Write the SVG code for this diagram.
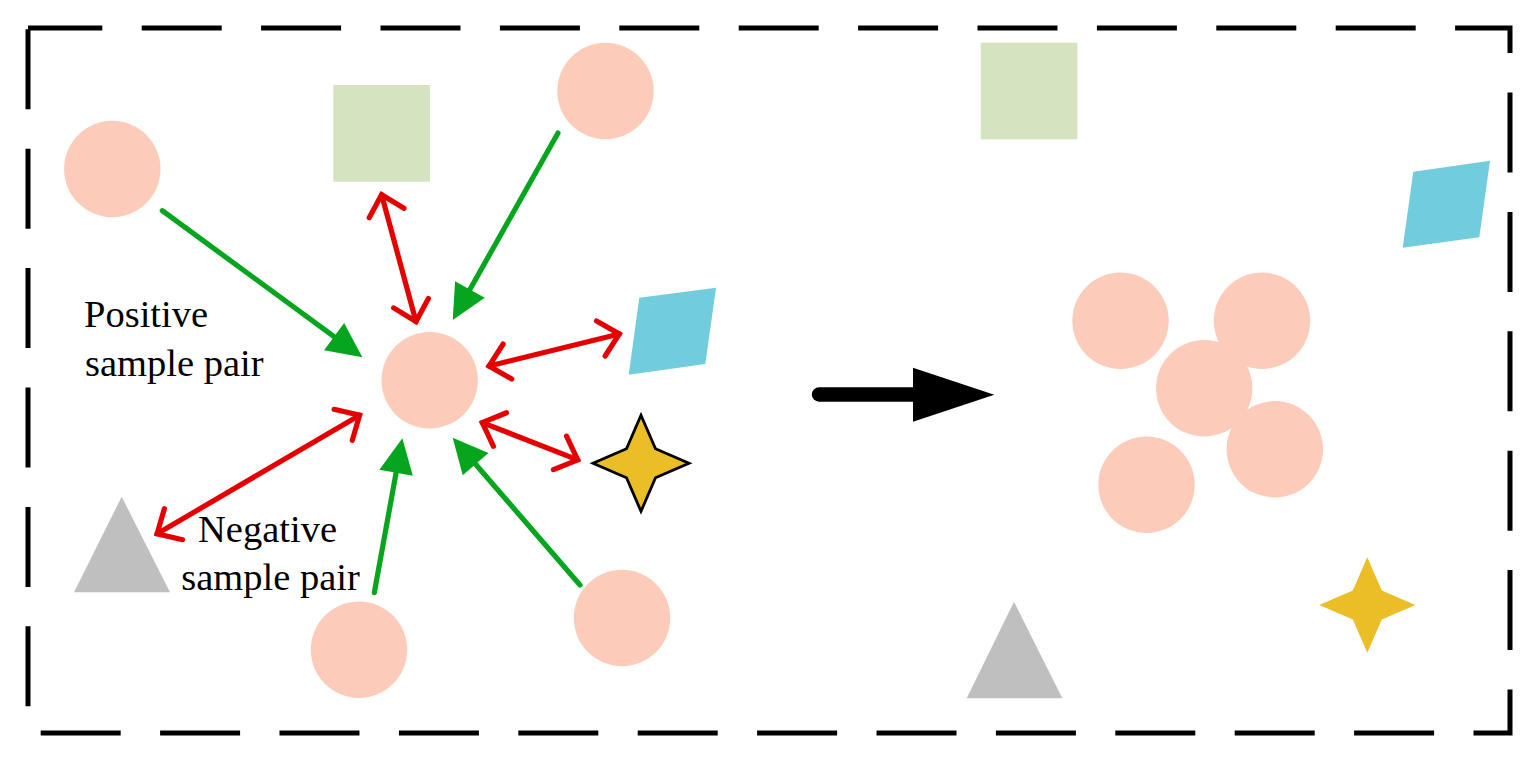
<svg xmlns="http://www.w3.org/2000/svg" width="1538" height="760" viewBox="0 0 1538 760">
  <style>
    .circ { fill: #FCCBB9; }
    .sq { fill: #D5E3C0; }
    .para { fill: #71CDDE; }
    .tri { fill: #BFBFBF; }
    .star { fill: #EBBD27; }
    .star-o { fill: #EBBD27; stroke: #000; stroke-width: 2.8; stroke-linejoin: miter; }
    .pos { stroke: #05A51E; stroke-width: 5.2; stroke-linecap: round; fill: none; }
    .neg { stroke: #E50000; stroke-width: 5.2; stroke-linecap: round; fill: none; }
    .lbl { font-family: "Liberation Serif", "Times New Roman", serif; font-size: 38.5px; fill: #000; }
  </style>
  <defs>
    <marker id="gHead" markerUnits="userSpaceOnUse" viewBox="-2 -20 42 40" refX="0" refY="0" markerWidth="42" markerHeight="40" orient="auto" overflow="visible">
      <path d="M35,0 L0,-17 L0,17 Z" fill="#05A51E"/>
    </marker>
    <marker id="rHead" markerUnits="userSpaceOnUse" viewBox="-26 -24 30 48" refX="0" refY="0" markerWidth="30" markerHeight="48" orient="auto-start-reverse" overflow="visible">
      <path d="M-19,-18 L0,0 L-19,18" fill="none" stroke="#E50000" stroke-width="5.2" stroke-linecap="round" stroke-linejoin="miter"/>
    </marker>
  </defs>

  <rect id="frame" x="28" y="28" width="1482" height="705" fill="none" stroke="#000" stroke-width="5" stroke-dasharray="80 39.4" stroke-dashoffset="5.7"/>

  <g id="connectors">
    <line class="pos" x1="162.3" y1="210.7" x2="334.1" y2="336.6" marker-end="url(#gHead)"/>
    <line class="pos" x1="558" y1="133" x2="469.9" y2="289.5" marker-end="url(#gHead)"/>
    <line class="pos" x1="374.3" y1="592.7" x2="396.1" y2="472.8" marker-end="url(#gHead)"/>
    <line class="pos" x1="580" y1="585" x2="475.6" y2="464.2" marker-end="url(#gHead)"/>
    <line class="neg" x1="416" y1="321.5" x2="381.6" y2="194.7" marker-start="url(#rHead)" marker-end="url(#rHead)"/>
    <line class="neg" x1="489" y1="366" x2="619.3" y2="334" marker-start="url(#rHead)" marker-end="url(#rHead)"/>
    <line class="neg" x1="482.3" y1="422.6" x2="577.7" y2="459.8" marker-start="url(#rHead)" marker-end="url(#rHead)"/>
    <line class="neg" x1="359.6" y1="415.2" x2="157.1" y2="533.8" marker-start="url(#rHead)" marker-end="url(#rHead)"/>
    <g id="transform-arrow">
      <line x1="819" y1="394.5" x2="916" y2="394.5" stroke="#000" stroke-width="14.4" stroke-linecap="round"/>
      <polygon points="913,367.7 994.3,394.7 913,421.7" fill="#000"/>
    </g>
  </g>

  <g id="left-nodes">
    <g id="anchor"><circle class="circ" cx="429.7" cy="380.3" r="48.2"/></g>
    <g id="pos1"><circle class="circ" cx="112.3" cy="169" r="48.2"/></g>
    <g id="pos2"><circle class="circ" cx="605.5" cy="91" r="48.2"/></g>
    <g id="pos3"><circle class="circ" cx="359" cy="649.7" r="48.2"/></g>
    <g id="pos4"><circle class="circ" cx="622" cy="618" r="48.2"/></g>
    <g id="neg-square"><rect class="sq" x="333.3" y="85" width="96.7" height="96.7"/></g>
    <g id="neg-para"><polygon class="para" points="639.3,297.7 716,287.7 705.3,364 628.7,374.7"/></g>
    <g id="neg-star"><polygon class="star-o" points="641,415.3 655.5,448.8 689,463.3 655.5,477.8 641,511.3 626.5,477.8 593,463.3 626.5,448.8"/></g>
    <g id="neg-tri"><polygon class="tri" points="121.7,496.7 170,592.3 74,592.3"/></g>
  </g>

  <g id="labels">
    <text class="lbl" x="84" y="327.3">Positive</text>
    <text class="lbl" x="85" y="376">sample pair</text>
    <text class="lbl" x="267.5" y="541.7" text-anchor="middle">Negative</text>
    <text class="lbl" x="270.5" y="590" text-anchor="middle">sample pair</text>
  </g>

  <g id="right-nodes">
    <g id="r-square"><rect class="sq" x="980.7" y="42.7" width="96.7" height="96.7"/></g>
    <g id="r-para"><polygon class="para" points="1413.3,171.7 1490,160.7 1479.3,237.3 1402.7,247.7"/></g>
    <g id="r-star"><polygon class="star" points="1367.3,557.3 1381.8,590.5 1415.3,605 1381.8,619.5 1367.3,652.7 1352.8,619.5 1319.3,605 1352.8,590.5"/></g>
    <g id="r-tri"><polygon class="tri" points="1014,601.7 1062.3,698.3 966.7,698.3"/></g>
    <g id="r-c1"><circle class="circ" cx="1120.5" cy="320.8" r="48.2"/></g>
    <g id="r-c2"><circle class="circ" cx="1262" cy="320.8" r="48.2"/></g>
    <g id="r-c3"><circle class="circ" cx="1204.2" cy="388.3" r="48.2"/></g>
    <g id="r-c4"><circle class="circ" cx="1274.8" cy="449.3" r="48.2"/></g>
    <g id="r-c5"><circle class="circ" cx="1146.5" cy="484.8" r="48.2"/></g>
  </g>
</svg>
